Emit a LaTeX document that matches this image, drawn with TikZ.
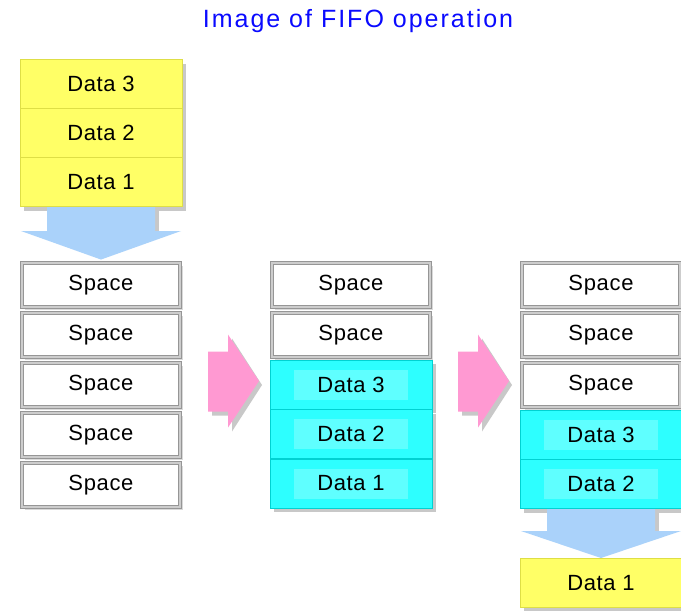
\documentclass[tikz,border=0pt]{standalone}
\usepackage{fontspec}
\setmainfont{Liberation Sans}
\usetikzlibrary{shadows,calc}
\definecolor{shadowc}{RGB}{200,200,200}
\definecolor{yel}{RGB}{255,255,102}
\definecolor{yeledge}{RGB}{222,222,70}
\definecolor{cy}{RGB}{45,255,255}
\definecolor{cyin}{RGB}{95,255,255}
\definecolor{cyedge}{RGB}{0,210,210}
\definecolor{framec}{RGB}{150,150,150}
\definecolor{framein}{RGB}{205,205,205}
\definecolor{arrblue}{RGB}{170,210,250}
\definecolor{arrpink}{RGB}{255,153,210}
\definecolor{titleblue}{RGB}{10,10,255}
\tikzset{
  boxfont/.style={font=\fontsize{22}{25}\selectfont\addfontfeature{LetterSpace=3}},
  shad/.style={general shadow={fill=shadowc, shadow xshift=4pt, shadow yshift=-4pt}},
  yelbox/.style={rectangle, boxfont, minimum width=162pt, minimum height=49pt, inner sep=0pt,
    fill=yel, draw=yeledge, line width=1pt, shad},
  cybox/.style={rectangle, boxfont, minimum width=162pt, minimum height=49pt, inner sep=0pt,
    fill=cy, draw=cyedge, line width=1pt, shad,
    path picture={\fill[cyin] ($(path picture bounding box.center)+(-57,-15)$) rectangle ++(114,30);}},
  spbox/.style={rectangle, boxfont, minimum width=158pt, minimum height=44pt, inner sep=0pt,
    fill=white, draw=framec, double=framein, double distance=1.6pt, line width=0.9pt,
    general shadow={fill=shadowc!70, shadow xshift=3pt, shadow yshift=-3pt}},
  bluearrow/.style={fill=arrblue},
  pinkarrow/.style={fill=arrpink},
  arrshadow/.style={fill=shadowc}
}
\begin{document}
\begin{tikzpicture}[x=1pt,y=-1pt]
\useasboundingbox[fill=white] (0,0) rectangle (681,611);
\node[text=titleblue, font=\fontsize{25}{28}\selectfont\addfontfeature{LetterSpace=8}] (title) at (358,21) {Image of FIFO operation};

% column 1 input data
\node[yelbox] (in3) at (101,84) {Data 3};
\node[yelbox] (in2) at (101,133) {Data 2};
\node[yelbox] (in1) at (101,182) {Data 1};

% column 1 spaces
\foreach \i/\y in {1/285,2/335,3/385,4/435,5/485}
  \node[spbox] (a\i) at (101,\y) {Space};

% column 2
\node[spbox] (b1) at (351,285) {Space};
\node[spbox] (b2) at (351,335) {Space};
\node[cybox] (b3) at (351,384.5) {Data 3};
\node[cybox] (b4) at (351,434) {Data 2};
\node[cybox] (b5) at (351,483.5) {Data 1};

% column 3
\node[spbox] (c1) at (601,285) {Space};
\node[spbox] (c2) at (601,335) {Space};
\node[spbox] (c3) at (601,385) {Space};
\node[cybox] (c4) at (601,434.5) {Data 3};
\node[cybox] (c5) at (601,484) {Data 2};
\node[yelbox] (out1) at (601,583) {Data 1};

% blue arrow: input -> column 1
\fill[arrshadow] ($(in1.south)+(-50,0)$) -- ($(in1.south)+(58,0)$) -- ($(in1.south)+(58,28)$) -- ($(in1.south)+(-50,28)$) -- cycle;
\fill[bluearrow] ($(in1.south)+(-54,0)$) -- ($(in1.south)+(54,0)$) -- ($(in1.south)+(54,24)$)
  -- ($(in1.south)+(80,24)$) -- ($(a1.north)+(0,-3)$) -- ($(in1.south)+(-80,24)$)
  -- ($(in1.south)+(-54,24)$) -- cycle;

% blue arrow: column 3 -> output
\fill[arrshadow] ($(c5.south)+(-50,0)$) -- ($(c5.south)+(58,0)$) -- ($(c5.south)+(58,26)$) -- ($(c5.south)+(-50,26)$) -- cycle;
\fill[bluearrow] ($(c5.south)+(-54,0)$) -- ($(c5.south)+(54,0)$) -- ($(c5.south)+(54,22)$)
  -- ($(c5.south)+(80,22)$) -- (out1.north) -- ($(c5.south)+(-80,22)$)
  -- ($(c5.south)+(-54,22)$) -- cycle;

% pink arrows
\foreach \dx/\name in {0/p1,250/p2}{
  \coordinate (\name) at (208+\dx,381);
  \fill[arrshadow] ($(\name)+(4,-25.5)$) -- ($(\name)+(24,-25.5)$) -- ($(\name)+(24,-42.5)$)
    -- ($(\name)+(54,4)$) -- ($(\name)+(24,50.5)$) -- ($(\name)+(24,34.5)$) -- ($(\name)+(4,34.5)$) -- cycle;
  \fill[pinkarrow] ($(\name)+(0,-29.5)$) -- ($(\name)+(20,-29.5)$) -- ($(\name)+(20,-46.5)$)
    -- ($(\name)+(51,0)$) -- ($(\name)+(20,46.5)$) -- ($(\name)+(20,30.5)$) -- ($(\name)+(0,30.5)$) -- cycle;
}
\end{tikzpicture}
\end{document}
